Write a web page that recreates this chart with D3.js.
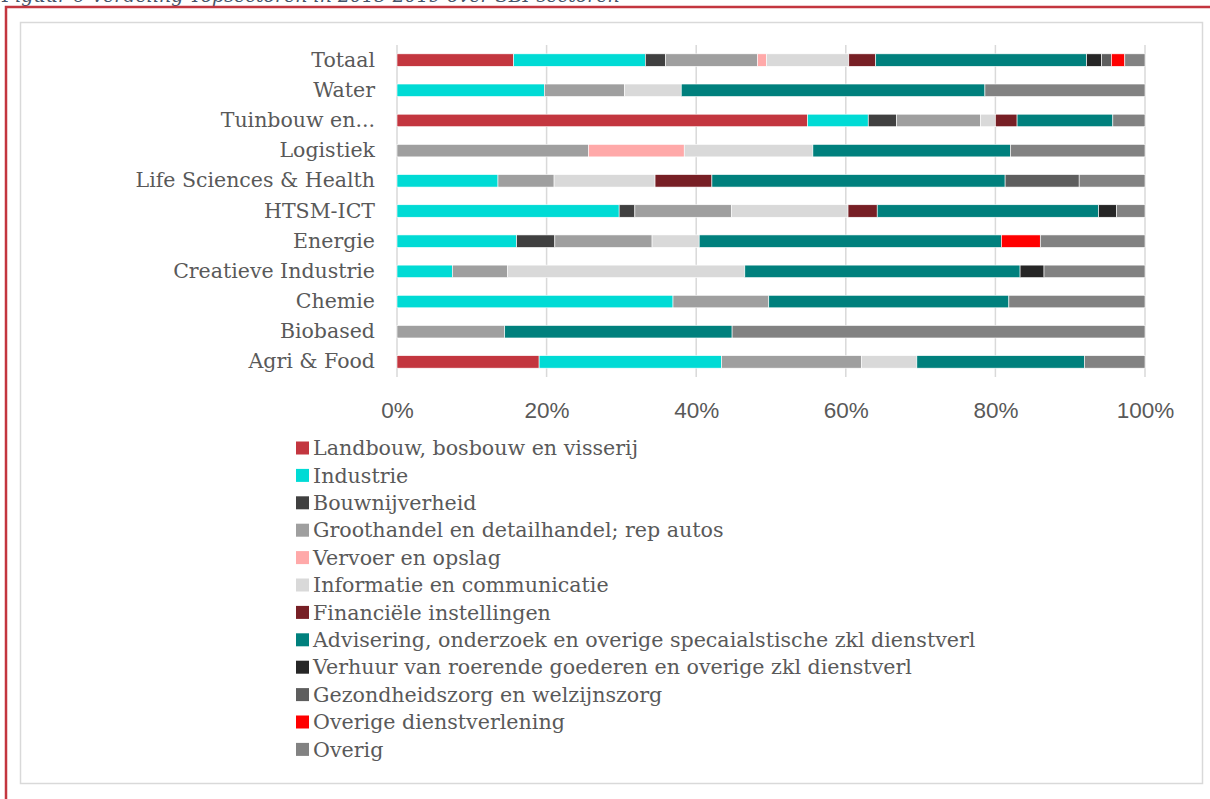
<!DOCTYPE html>
<html>
<head>
<meta charset="utf-8">
<script src="https://cdn.jsdelivr.net/npm/d3@7"></script>
<style>
  body { margin: 0; background: #fff; }
  svg { display: block; }
</style>
</head>
<body>
<div id="chart"></div>
<script>
// topsectoren, top to bottom
const categories = ["Totaal", "Water", "Tuinbouw en...", "Logistiek", "Life Sciences & Health",
  "HTSM-ICT", "Energie", "Creatieve Industrie", "Chemie", "Biobased", "Agri & Food"];

const seriesNames = [
  "Landbouw, bosbouw en visserij",
  "Industrie",
  "Bouwnijverheid",
  "Groothandel en detailhandel; rep autos",
  "Vervoer en opslag",
  "Informatie en communicatie",
  "Financiële instellingen",
  "Advisering, onderzoek en overige specaialstische zkl dienstverl",
  "Verhuur van roerende goederen en overige zkl dienstverl",
  "Gezondheidszorg en welzijnszorg",
  "Overige dienstverlening",
  "Overig"
];

const seriesColors = ["#c3363f", "#00dbd5", "#404040", "#9f9f9f", "#ffa9a9", "#d9d9d9",
  "#771f25", "#00807d", "#262626", "#5e5e5e", "#ff0000", "#828282"];

// share (%) per category, same order as categories
const landbouw    = [15.6, 0, 54.9, 0, 0, 0, 0, 0, 0, 0, 19.0];
const industrie   = [17.6, 19.7, 8.1, 0, 13.5, 29.7, 16.0, 7.4, 36.9, 0, 24.4];
const bouw        = [2.7, 0, 3.8, 0, 0, 2.1, 5.1, 0, 0, 0, 0];
const groothandel = [12.3, 10.7, 11.2, 25.6, 7.5, 12.9, 13.0, 7.4, 12.8, 14.4, 18.7];
const vervoer     = [1.2, 0, 0, 12.8, 0, 0, 0, 0, 0, 0, 0];
const informatie  = [11.0, 7.6, 2.0, 17.2, 13.5, 15.6, 6.3, 31.7, 0, 0, 7.4];
const financieel  = [3.6, 0, 2.9, 0, 7.6, 3.9, 0, 0, 0, 0, 0];
const advisering  = [28.2, 40.6, 12.8, 26.4, 39.2, 29.6, 40.4, 36.8, 32.1, 30.4, 22.4];
const verhuur     = [2.0, 0, 0, 0, 0, 2.4, 0, 3.2, 0, 0, 0];
const gezondheid  = [1.3, 0, 0, 0, 9.9, 0, 0, 0, 0, 0, 0];
const overigeDv   = [1.8, 0, 0, 0, 0, 0, 5.2, 0, 0, 0, 0];
const overig      = [2.7, 21.4, 4.3, 18.0, 8.8, 3.8, 14.0, 13.5, 18.2, 55.2, 8.1];

const seriesValues = [landbouw, industrie, bouw, groothandel, vervoer, informatie,
  financieel, advisering, verhuur, gezondheid, overigeDv, overig];

const xTicks = [0, 20, 40, 60, 80, 100];

const W = 1210, H = 799;
const textColor = "#595959";
const serif = "'DejaVu Serif', Georgia, serif";

const svg = d3.select("#chart").append("svg")
  .attr("width", W).attr("height", H);

// caption above the frame, cut off at the top like in the source
svg.append("text")
  .attr("x", 2).attr("y", 2)
  .style("font-family", serif).style("font-style", "italic")
  .style("font-size", "19px").style("fill", "#44546a")
  .text("Figuur 6 Verdeling Topsectoren in 2015-2019 over SBI-sectoren");

// red page frame
svg.append("path")
  .attr("d", "M6,799 V7 H1212")
  .attr("fill", "none").attr("stroke", "#c3363f").attr("stroke-width", 2.5);

// chart area frame
svg.append("rect")
  .attr("x", 20.5).attr("y", 22.5).attr("width", 1182).attr("height", 761)
  .attr("fill", "#fff").attr("stroke", "#d9d9d9").attr("stroke-width", 1.5);

// table for stacking
const table = categories.map((c, i) => {
  const row = {category: c};
  seriesNames.forEach((s, j) => row[s] = seriesValues[j][i]);
  return row;
});

const stacked = d3.stack().keys(seriesNames)(table);

const x = d3.scaleLinear().domain([0, 100]).range([397, 1145]);
const y = d3.scaleBand().domain(categories).range([45, 377])
  .paddingInner(0.586).paddingOuter(0.293);
const color = d3.scaleOrdinal().domain(seriesNames).range(seriesColors);

// gridlines
svg.append("g")
  .selectAll("line")
  .data(xTicks)
  .join("line")
  .attr("x1", d => x(d)).attr("x2", d => x(d))
  .attr("y1", 45).attr("y2", 377)
  .attr("stroke", "#d9d9d9").attr("stroke-width", 1.5);

// bars
svg.append("g")
  .selectAll("g")
  .data(stacked)
  .join("g")
  .attr("fill", d => color(d.key))
  .selectAll("rect")
  .data(d => d.filter(v => v[1] - v[0] > 0))
  .join("rect")
  .attr("x", d => x(d[0]))
  .attr("y", d => y(d.data.category))
  .attr("width", d => x(d[1]) - x(d[0]))
  .attr("height", y.bandwidth())
  .attr("stroke", "#fff").attr("stroke-width", 0.6);

// category axis
const yAxis = svg.append("g")
  .attr("transform", "translate(375,0)")
  .call(d3.axisLeft(y).tickSize(0).tickPadding(0));
yAxis.select(".domain").remove();
yAxis.selectAll("text")
  .style("font-family", serif).style("font-size", "20.5px").style("fill", textColor);

// value axis
const xAxis = svg.append("g")
  .attr("transform", "translate(0,402)")
  .call(d3.axisBottom(x).tickValues(xTicks).tickFormat(d => d + "%").tickSize(0).tickPadding(0));
xAxis.select(".domain").remove();
xAxis.selectAll("text")
  .style("font-family", "'Liberation Sans', Arial, sans-serif").style("font-size", "22.5px")
  .style("fill", textColor);

// legend
const legend = svg.append("g")
  .selectAll("g")
  .data(seriesNames)
  .join("g")
  .attr("transform", (d, i) => "translate(296," + (448 + i * 27.4) + ")");

legend.append("rect")
  .attr("x", 0).attr("y", -6.5).attr("width", 13).attr("height", 13)
  .attr("fill", d => color(d));

legend.append("text")
  .attr("x", 17).attr("dy", "0.35em")
  .style("font-family", serif).style("font-size", "20.6px").style("fill", textColor)
  .text(d => d);
</script>
</body>
</html>
